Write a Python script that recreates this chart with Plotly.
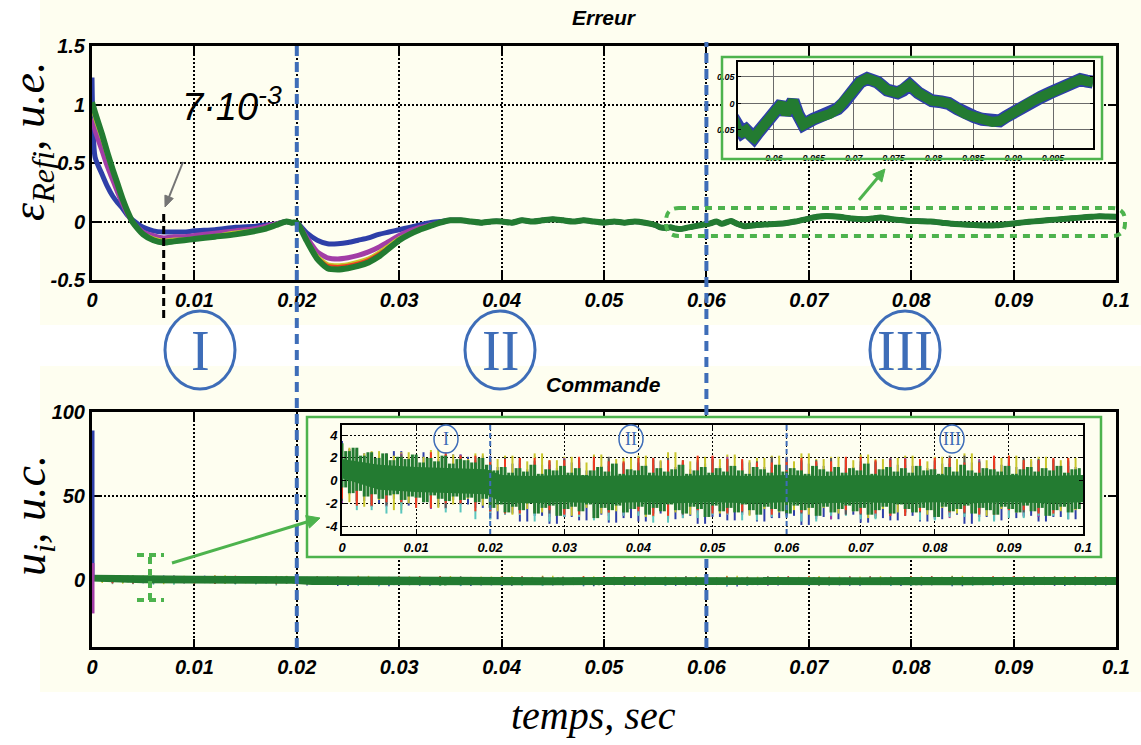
import math
import plotly.graph_objects as go

# ======================= DATA =======================
# --- Erreur (tracking error) : early transient, one list per run colour
t_err_early = [0, 0.0003, 0.001, 0.0015, 0.002, 0.0025, 0.003, 0.0035, 0.004, 0.005,
               0.006, 0.007, 0.008, 0.009, 0.010, 0.012, 0.014, 0.016, 0.017, 0.018,
               0.019, 0.0195, 0.020, 0.021, 0.022, 0.023, 0.024, 0.025, 0.026, 0.027,
               0.028, 0.029, 0.030, 0.031, 0.032, 0.033, 0.034, 0.035]
err_blue_early = [1.23, 0.55, 0.40, 0.30, 0.22, 0.16, 0.11, 0.05, 0.01, -0.05,
                  -0.08, -0.09, -0.09, -0.09, -0.08, -0.07, -0.05, -0.04, -0.03, -0.02,
                  0.0, -0.01, -0.01, -0.10, -0.16, -0.19, -0.19, -0.18, -0.16, -0.14,
                  -0.11, -0.09, -0.07, -0.05, -0.03, -0.01, 0.0, 0.01]
err_magenta_early = [0.88, 0.78, 0.60, 0.47, 0.36, 0.25, 0.15, 0.06, -0.01, -0.09,
                     -0.12, -0.14, -0.13, -0.13, -0.12, -0.10, -0.08, -0.06, -0.04, -0.02,
                     0.0, -0.01, -0.01, -0.14, -0.26, -0.31, -0.32, -0.31, -0.29, -0.26,
                     -0.22, -0.17, -0.12, -0.08, -0.05, -0.03, -0.01, 0.01]
err_yellow_early = [0.97, 0.87, 0.69, 0.55, 0.42, 0.30, 0.18, 0.07, -0.01, -0.10,
                    -0.14, -0.16, -0.15, -0.15, -0.14, -0.12, -0.09, -0.07, -0.05, -0.03,
                    0.0, -0.01, -0.01, -0.16, -0.29, -0.36, -0.37, -0.36, -0.34, -0.31,
                    -0.26, -0.20, -0.14, -0.10, -0.06, -0.04, -0.01, 0.01]
err_red_early = [0.99, 0.89, 0.71, 0.57, 0.43, 0.31, 0.18, 0.08, -0.01, -0.10,
                 -0.15, -0.17, -0.16, -0.15, -0.14, -0.12, -0.10, -0.07, -0.05, -0.03,
                 0.0, -0.01, -0.01, -0.16, -0.30, -0.37, -0.38, -0.37, -0.35, -0.32,
                 -0.27, -0.21, -0.15, -0.10, -0.06, -0.04, -0.01, 0.01]
err_green_early = [1.02, 0.93, 0.74, 0.59, 0.45, 0.32, 0.19, 0.08, -0.01, -0.11,
                   -0.16, -0.18, -0.17, -0.16, -0.15, -0.13, -0.11, -0.08, -0.06, -0.03,
                   0.0, -0.01, -0.01, -0.17, -0.32, -0.40, -0.41, -0.40, -0.38, -0.35,
                   -0.30, -0.23, -0.16, -0.11, -0.07, -0.04, -0.01, 0.01]
# --- Erreur : common tail (all runs coincide), also shown in the zoom inset
t_err_tail = [0.036, 0.037, 0.038, 0.039, 0.040, 0.041, 0.042, 0.043, 0.044, 0.045,
              0.046, 0.047, 0.048, 0.049, 0.050, 0.051, 0.052, 0.053, 0.054, 0.055,
              0.0555, 0.056, 0.0565, 0.057, 0.0575, 0.058, 0.0586, 0.0595, 0.0603, 0.061,
              0.0615, 0.0624, 0.063, 0.0637, 0.0649, 0.066, 0.067, 0.068, 0.0687, 0.070,
              0.0708, 0.0717, 0.0730, 0.0742, 0.0755, 0.0762, 0.0770, 0.0781, 0.079, 0.0798,
              0.081, 0.0819, 0.083, 0.0840, 0.0851, 0.0861, 0.0874, 0.0883, 0.0891, 0.0904,
              0.0915, 0.0925, 0.0935, 0.0946, 0.0957, 0.0967, 0.0976, 0.0984, 0.0992, 0.1]
err_tail = [0.01, 0.0, -0.01, 0.0, 0.0, -0.01, 0.01, 0.0, 0.01, 0.02,
            0.01, 0.0, 0.01, 0.0, -0.01, 0.0, -0.01, 0.0, -0.01, -0.03,
            -0.05, -0.055, -0.05, -0.06, -0.065, -0.055, -0.045, -0.03, -0.018, 0.0,
            -0.02, 0.005, -0.02, -0.04, -0.03, -0.025, -0.02, -0.01, 0.0, 0.025,
            0.04, 0.047, 0.04, 0.025, 0.02, 0.025, 0.035, 0.02, 0.012, 0.005,
            0.003, 0.0, -0.01, -0.02, -0.025, -0.03, -0.035, -0.033, -0.025, -0.012,
            -0.003, 0.005, 0.012, 0.02, 0.027, 0.035, 0.04, 0.045, 0.042, 0.04]

# --- Commande (control signal), green run: alternating peaks / troughs, 0.0005 s sampling
u_green_peaks = [3.3, 2.6, 2.9, 2.2, 2.5, 2.0, 2.4, 1.8, 2.1, 1.9,
                 2.3, 1.6, 2.0, 1.7, 2.2, 1.5, 1.9, 1.8, 1.6, 2.0,
                 1.4, 0.9, 1.2, 0.7, 1.1, 0.8, 1.4, 0.6, 1.0, 0.9,
                 1.3, 0.7, 1.1, 0.5, 0.9, 1.2, 0.8, 1.5, 0.6, 1.0,
                 0.9, 1.3, 0.7, 1.1, 0.8, 1.0, 1.4, 0.6, 0.9, 1.2,
                 0.7, 1.1, 0.8, 1.3, 0.9, 0.6, 1.2, 1.0, 0.7, 1.4,
                 0.8, 1.1, 0.9, 0.6, 1.3, 1.0, 0.8, 1.2, 0.7, 1.1,
                 0.9, 1.5, 0.6, 1.0, 1.2, 0.8, 1.1, 0.7, 1.3, 0.9,
                 1.0, 0.6, 1.2, 0.8, 1.4, 0.9, 0.7, 1.1, 1.0, 0.8,
                 1.3, 0.6, 1.0, 1.2, 0.8, 1.1, 0.9, 1.3, 0.7, 1.0, 1.1]
u_green_troughs = [-0.6, -1.1, -0.9, -1.4, -1.2, -1.6, -1.3, -1.2, -1.7, -1.4,
                   -1.5, -1.9, -1.3, -1.6, -1.8, -1.4, -1.7, -1.5, -1.9, -1.6,
                   -2.4, -2.1, -2.8, -2.3, -2.6, -2.0, -2.9, -2.4, -2.2, -3.1,
                   -2.5, -2.3, -2.7, -2.1, -3.3, -2.4, -2.6, -2.2, -2.8, -2.5,
                   -2.3, -3.0, -2.4, -2.7, -2.1, -2.6, -2.9, -2.3, -2.5, -3.2,
                   -2.2, -2.7, -2.4, -2.8, -2.1, -2.6, -3.0, -2.3, -2.5, -2.7,
                   -2.9, -2.2, -2.6, -2.4, -3.1, -2.3, -2.8, -2.5, -2.2, -2.7,
                   -2.4, -3.0, -2.6, -2.3, -2.9, -2.1, -2.5, -2.8, -2.4, -2.6,
                   -3.2, -2.3, -2.7, -2.5, -2.2, -2.9, -2.4, -2.6, -3.0, -2.3,
                   -2.5, -2.8, -2.2, -2.7, -2.4, -3.1, -2.6, -2.3, -2.8, -2.5]
# dense core of the green band
t_core = [0, 0.005, 0.01, 0.015, 0.0195, 0.0215, 0.025, 0.03, 0.035, 0.04, 0.045,
          0.05, 0.055, 0.06, 0.065, 0.07, 0.075, 0.08, 0.085, 0.09, 0.095, 0.1]
u_core_hi = [1.9, 1.4, 1.2, 1.1, 1.0, 0.5, 0.4, 0.5, 0.4, 0.5, 0.4,
             0.5, 0.4, 0.5, 0.4, 0.5, 0.4, 0.5, 0.4, 0.5, 0.4, 0.5]
u_core_lo = [0.2, -0.8, -1.0, -1.1, -1.2, -1.9, -2.0, -1.9, -2.0, -1.9, -2.0,
             -1.9, -2.0, -1.9, -2.0, -1.9, -2.0, -1.9, -2.0, -1.9, -2.0, -1.9]
# other runs, 0.001 s sampling
u_blue = [3.5, -1.2, 2.8, -1.8, 2.4, -2.0, 2.2, -1.6, 2.6, -2.2,
          2.0, -1.9, 2.5, -2.3, 1.9, -1.7, 2.3, -2.1, 2.1, -2.4,
          2.2, -3.4, 1.2, -2.9, 1.5, -3.6, 1.0, -3.1, 1.4, -3.8,
          1.1, -3.2, 1.6, -3.5, 0.9, -3.0, 1.3, -3.7, 1.5, -3.3,
          1.0, -3.6, 1.4, -2.9, 1.7, -3.4, 1.2, -3.1, 1.0, -3.8,
          1.5, -3.2, 1.3, -3.5, 1.1, -3.0, 1.6, -3.6, 1.2, -3.3,
          1.4, -3.1, 1.0, -3.9, 1.5, -3.2, 1.3, -3.4, 1.1, -3.0,
          1.2, -3.7, 1.6, -3.3, 1.0, -3.5, 1.4, -3.1, 1.3, -3.6,
          1.1, -3.4, 1.5, -3.0, 1.2, -3.8, 1.6, -3.2, 1.0, -3.5,
          1.4, -3.3, 1.2, -3.1, 1.7, -3.6, 1.1, -3.2, 1.3, -3.4, 1.2]
u_yellow = [-0.5, 2.9, -1.9, 2.4, -2.3, 2.6, -1.7, 2.2, -2.6, 2.5,
            -2.0, 2.1, -1.8, 2.7, -2.4, 2.3, -2.1, 1.9, -1.6, 2.4,
            -2.2, 1.9, -2.7, 2.2, -3.0, 1.7, -2.5, 2.4, -2.8, 1.8,
            -2.6, 2.1, -3.1, 1.6, -2.4, 2.3, -2.9, 1.9, -2.7, 2.0,
            -2.5, 2.2, -3.2, 1.8, -2.6, 2.5, -2.8, 1.7, -3.0, 2.1,
            -2.4, 1.9, -2.9, 2.3, -2.7, 1.8, -3.1, 2.0, -2.5, 2.2,
            -2.8, 1.7, -2.6, 2.4, -3.0, 1.9, -2.4, 2.1, -2.9, 1.8,
            -2.7, 2.3, -3.3, 1.9, -2.5, 2.0, -2.8, 2.2, -2.6, 1.7,
            -3.0, 2.1, -2.4, 1.9, -2.9, 2.4, -2.7, 1.8, -3.1, 2.0,
            -2.5, 2.2, -2.8, 1.9, -2.6, 2.1, -3.0, 1.8, -2.7, 2.0, -2.6]
# other runs, 0.002 s sampling
u_magenta = [2.6, -2.0, 2.2, -2.3, 2.4, -1.8, 2.0, -2.5, 2.3, -2.1,
             1.6, -3.0, 1.9, -2.8, 1.4, -3.2, 2.0, -2.7, 1.7, -3.1,
             1.5, -2.9, 1.8, -3.3, 1.6, -2.8, 2.1, -3.0, 1.5, -3.2,
             1.9, -2.7, 1.6, -3.4, 1.8, -2.9, 1.4, -3.1, 2.0, -2.8,
             1.7, -3.3, 1.5, -2.9, 1.9, -3.0, 1.6, -3.2, 1.8, -2.8, 1.7]
u_cyan = [-1.5, 2.3, -2.6, 2.0, -2.9, 2.2, -2.4, 1.9, -2.8, 2.1,
          -3.4, 1.5, -3.0, 1.8, -3.6, 1.3, -3.2, 1.7, -3.5, 1.4,
          -3.1, 1.9, -3.7, 1.5, -3.3, 1.6, -3.0, 1.8, -3.5, 1.4,
          -3.2, 1.7, -3.6, 1.5, -3.1, 1.9, -3.4, 1.6, -3.0, 1.8,
          -3.5, 1.4, -3.2, 1.7, -3.6, 1.5, -3.3, 1.8, -3.1, 1.6, -3.4]
u_gray = [2.4, -1.8, 2.1, -2.2, 2.3, -1.9, 2.0, -2.4, 2.2, -2.0,
          1.8, -2.7, 2.0, -2.5, 1.7, -2.9, 1.9, -2.6, 2.1, -2.8,
          1.6, -2.5, 2.0, -3.0, 1.8, -2.6, 1.9, -2.8, 1.7, -2.7,
          2.1, -2.9, 1.8, -2.5, 2.0, -3.0, 1.7, -2.6, 1.9, -2.8,
          1.8, -2.7, 2.2, -2.9, 1.7, -2.6, 2.0, -2.8, 1.9, -2.5, 1.8]
u_red = [-1.6, 2.7, -2.2, 2.3, -1.9, 2.1, -2.4, 2.5, -2.0, 2.2,
         -2.7, 1.9, -2.9, 2.0, -2.6, 1.8, -3.0, 2.1, -2.8, 1.7,
         -2.7, 2.0, -3.1, 1.8, -2.6, 2.2, -2.9, 1.9, -2.7, 1.6,
         -3.0, 2.0, -2.8, 1.7, -2.6, 2.1, -2.9, 1.8, -3.1, 1.9,
         -2.7, 2.0, -2.8, 1.6, -3.0, 2.2, -2.6, 1.8, -2.9, 2.0, -2.7]
# initial control spike at t = 0
t_spike = [0, 0]
u_spike_blue = [89, 2]
u_spike_magenta = [10, -20]

x_tickvals = [0, 0.01, 0.02, 0.03, 0.04, 0.05, 0.06, 0.07, 0.08, 0.09, 0.1]
x_ticktext = ["0", "0.01", "0.02", "0.03", "0.04", "0.05", "0.06", "0.07", "0.08", "0.09", "0.1"]
err_tickvals = [-0.5, 0, 0.5, 1, 1.5]
err_ticktext = ["-0.5", "0", "0.5", "1", "1.5"]
u_tickvals = [0, 50, 100]
u_ticktext = ["0", "50", "100"]
zoom_err_xvals = [0.06, 0.065, 0.07, 0.075, 0.08, 0.085, 0.09, 0.095]
zoom_err_xtext = ["0.06", "0.065", "0.07", "0.075", "0.08", "0.085", "0.09", "0.095"]
zoom_err_yvals = [-0.05, 0, 0.05]
zoom_err_ytext = ["0.05", "0", "0.05"]
zoom_u_yvals = [-4, -2, 0, 2, 4]
zoom_u_ytext = ["-4", "-2", "0", "2", "4"]
phase_labels = ["I", "II", "III"]
phase_bounds = [0.02, 0.06]

# ======================= BUILD =======================
W, H = 1141, 745
def PX(x): return x / W
def PY(y): return 1 - y / H

t_u = [round(i * 0.0005, 5) for i in range(len(u_green_peaks) + len(u_green_troughs))]
u_green = []
for k in range(len(u_green_troughs)):
    u_green += [u_green_peaks[k], u_green_troughs[k]]
u_green.append(u_green_peaks[-1])
t_c1 = [round(i * 0.001, 4) for i in range(len(u_blue))]
t_c2 = [round(i * 0.002, 4) for i in range(len(u_magenta))]

def spikes(t, u):
    """vertical noise spikes: each sample joined to the next one at the sample instant"""
    xs, ys = [], []
    for k in range(len(u) - 1):
        xs += [t[k], t[k], None]
        ys += [u[k], u[k + 1], None]
    return xs, ys

t_err = t_err_early + t_err_tail
err_series = [
    ("#2E3FA8", 5, err_blue_early),
    ("#A23DA6", 5, err_magenta_early),
    ("#C9C62C", 3, err_yellow_early),
    ("#F03A20", 2, err_red_early),
    ("#237B31", 6, err_green_early),
]

CREAM = "#FEFEF0"
BLUE = "#3E6DB8"
GREEN = "#4DB34D"
DGREEN = "#237B31"

fig = go.Figure()

# ---- main error plot
for col, w, early in err_series:
    fig.add_trace(go.Scatter(x=t_err, y=early + err_tail, mode="lines",
                             line=dict(color=col, width=w, shape="spline", smoothing=0.6),
                             xaxis="x", yaxis="y", showlegend=False, hoverinfo="skip"))

# ---- control traces (main & inset)
def control_traces(xa, ya, wc, wg, wcore):
    tr = []
    for t, u, col in [(t_c1, u_blue, "#2E3FA8"), (t_c1, u_yellow, "#C9C62C"),
                      (t_c2, u_magenta, "#A23DA6"), (t_c2, u_cyan, "#5CC6BE"),
                      (t_c2, u_gray, "#5A5A5A"), (t_c2, u_red, "#F03A20")]:
        xs, ys = spikes(t, u)
        tr.append(go.Scatter(x=xs, y=ys, mode="lines", line=dict(color=col, width=wc),
                             xaxis=xa, yaxis=ya, showlegend=False, hoverinfo="skip"))
    xs, ys = spikes(t_u, u_green)
    tr.append(go.Scatter(x=xs, y=ys, mode="lines", line=dict(color=DGREEN, width=wg),
                         xaxis=xa, yaxis=ya, showlegend=False, hoverinfo="skip"))
    tr.append(go.Scatter(x=t_core, y=u_core_lo, mode="lines", line=dict(width=wcore, color=DGREEN),
                         xaxis=xa, yaxis=ya, showlegend=False, hoverinfo="skip"))
    tr.append(go.Scatter(x=t_core, y=u_core_hi, mode="lines", line=dict(width=wcore, color=DGREEN),
                         fill="tonexty", fillcolor=DGREEN,
                         xaxis=xa, yaxis=ya, showlegend=False, hoverinfo="skip"))
    return tr

for tr in control_traces("x2", "y2", 1.5, 2.5, 4):
    fig.add_trace(tr)
fig.add_trace(go.Scatter(x=t_spike, y=u_spike_blue, mode="lines", line=dict(color="#2E3FA8", width=5),
                         xaxis="x2", yaxis="y2", showlegend=False, hoverinfo="skip"))
fig.add_trace(go.Scatter(x=t_spike, y=u_spike_magenta, mode="lines", line=dict(color="#A23DA6", width=5),
                         xaxis="x2", yaxis="y2", showlegend=False, hoverinfo="skip"))

# ---- cover subplots (opaque boxes behind insets)
fig.add_trace(go.Scatter(x=[], y=[], xaxis="x3", yaxis="y3", showlegend=False))
fig.add_trace(go.Scatter(x=[], y=[], xaxis="x4", yaxis="y4", showlegend=False))

# ---- inset: error zoom
fig.add_trace(go.Scatter(x=t_err, y=err_blue_early + err_tail, mode="lines",
                         line=dict(color="#2E3FA8", width=13), xaxis="x5", yaxis="y5",
                         showlegend=False, hoverinfo="skip"))
fig.add_trace(go.Scatter(x=t_err, y=err_green_early + err_tail, mode="lines",
                         line=dict(color=DGREEN, width=10), xaxis="x5", yaxis="y5",
                         showlegend=False, hoverinfo="skip"))

# ---- inset: control zoom
for tr in control_traces("x6", "y6", 2.0, 3.0, 0):
    fig.add_trace(tr)

# ======================= AXES =======================
tickfont_main = dict(family="Liberation Sans, Arial", size=20,
                     color="black", weight="bold", style="italic")
common_main = dict(showline=True, linecolor="black", linewidth=3, mirror="ticks",
                   ticks="inside", ticklen=8, tickwidth=2, tickcolor="black",
                   showgrid=True, gridcolor="black", gridwidth=1.5, griddash="2px,2px",
                   zeroline=False, tickfont=tickfont_main, layer="below traces",
                   automargin=False, fixedrange=True)
main_x = [PX(92), PX(1116)]
inset_font9 = dict(family="Liberation Sans", size=9, weight="bold", style="italic", color="black")
inset_font13 = dict(family="Liberation Sans", size=13, weight="bold", style="italic", color="black")

fig.update_layout(
    xaxis=dict(domain=main_x, range=[0, 0.1], anchor="y", tickvals=x_tickvals,
               ticktext=x_ticktext, **common_main),
    yaxis=dict(domain=[PY(280), PY(46)], range=[-0.5, 1.5], anchor="x",
               tickvals=err_tickvals, ticktext=err_ticktext, **common_main),
    xaxis2=dict(domain=main_x, range=[0, 0.1], anchor="y2", tickvals=x_tickvals,
                ticktext=x_ticktext, **common_main),
    yaxis2=dict(domain=[PY(647), PY(412)], range=[-40, 100], anchor="x2",
                tickvals=u_tickvals, ticktext=u_ticktext, **common_main),
    xaxis3=dict(domain=[PX(722), PX(1102)], range=[0, 1], anchor="y3", visible=False),
    yaxis3=dict(domain=[PY(159), PY(57)], range=[0, 1], anchor="x3", visible=False),
    xaxis4=dict(domain=[PX(307), PX(1101)], range=[0, 1], anchor="y4", visible=False),
    yaxis4=dict(domain=[PY(557), PY(417)], range=[0, 1], anchor="x4", visible=False),
    xaxis5=dict(domain=[PX(738), PX(1093)], range=[0.0555, 0.1], anchor="y5",
                tickvals=zoom_err_xvals, ticktext=zoom_err_xtext,
                showline=True, linecolor="black", linewidth=1.5, mirror="ticks",
                ticks="inside", ticklen=3, tickcolor="black",
                showgrid=True, gridcolor="#6A6A6A", gridwidth=1, zeroline=False,
                tickfont=inset_font9, automargin=False, fixedrange=True),
    yaxis5=dict(domain=[PY(148), PY(62)], range=[-0.084, 0.078], anchor="x5",
                tickvals=zoom_err_yvals, ticktext=zoom_err_ytext,
                showline=True, linecolor="black", linewidth=1.5, mirror="ticks",
                ticks="inside", ticklen=3, tickcolor="black",
                showgrid=True, gridcolor="#6A6A6A", gridwidth=1, zeroline=False,
                tickfont=inset_font9, automargin=False, fixedrange=True),
    xaxis6=dict(domain=[PX(342), PX(1083)], range=[0, 0.1], anchor="y6",
                tickvals=x_tickvals, ticktext=x_ticktext,
                showline=True, linecolor="black", linewidth=2, mirror="ticks",
                ticks="inside", ticklen=4, tickcolor="black",
                showgrid=True, gridcolor="black", gridwidth=1, griddash="2px,2px", zeroline=False,
                tickfont=inset_font13, automargin=False, fixedrange=True),
    yaxis6=dict(domain=[PY(534), PY(425)], range=[-4.7, 4.9], anchor="x6",
                tickvals=zoom_u_yvals, ticktext=zoom_u_ytext,
                showline=True, linecolor="black", linewidth=2, mirror="ticks",
                ticks="inside", ticklen=4, tickcolor="black",
                showgrid=True, gridcolor="black", gridwidth=1, griddash="2px,2px", zeroline=False,
                tickfont=inset_font13, automargin=False, fixedrange=True),
)

# ======================= SHAPES =======================
shapes = []
# cream panels
shapes.append(dict(type="rect", xref="paper", yref="paper", x0=PX(40), x1=1, y0=PY(325), y1=1,
                   fillcolor=CREAM, line=dict(width=0), layer="below"))
shapes.append(dict(type="rect", xref="paper", yref="paper", x0=PX(40), x1=1, y0=PY(692), y1=PY(366),
                   fillcolor=CREAM, line=dict(width=0), layer="below"))
# inset borders
shapes.append(dict(type="rect", xref="paper", yref="paper", x0=PX(722), x1=PX(1102), y0=PY(159), y1=PY(57),
                   line=dict(color=GREEN, width=2.5), layer="above"))
shapes.append(dict(type="rect", xref="paper", yref="paper", x0=PX(307), x1=PX(1101), y0=PY(557), y1=PY(417),
                   line=dict(color=GREEN, width=2.5), layer="above"))
# phase boundaries (big dashed lines)
bdash = dict(color=BLUE, width=4, dash="10px,6px")
shapes.append(dict(type="line", xref="x", yref="paper", x0=phase_bounds[0], x1=phase_bounds[0],
                   y0=PY(648), y1=PY(42), line=bdash, layer="above"))
shapes.append(dict(type="line", xref="x", yref="paper", x0=phase_bounds[1], x1=phase_bounds[1],
                   y0=PY(415), y1=PY(42), line=bdash, layer="above"))
shapes.append(dict(type="line", xref="x", yref="paper", x0=phase_bounds[1], x1=phase_bounds[1],
                   y0=PY(648), y1=PY(559), line=bdash, layer="above"))
for b in phase_bounds:
    shapes.append(dict(type="line", xref="x6", yref="y6", x0=b, x1=b, y0=-4.7, y1=4.9,
                       line=dict(color=BLUE, width=2, dash="5px,3px"), layer="above"))
# black dashed marker at 7e-3
shapes.append(dict(type="line", xref="x", yref="paper", x0=0.007, x1=0.007, y0=PY(318), y1=PY(214),
                   line=dict(color="black", width=3, dash="8px,4px"), layer="above"))
# rounded dashed green box around the tail
def rounded_path(l, t, r, b, rad):
    rx, ry = rad / W, rad / H
    x0, x1, y0, y1 = PX(l), PX(r), PY(b), PY(t)
    return (f"M {x0+rx},{y1} L {x1-rx},{y1} Q {x1},{y1} {x1},{y1-ry} "
            f"L {x1},{y0+ry} Q {x1},{y0} {x1-rx},{y0} L {x0+rx},{y0} "
            f"Q {x0},{y0} {x0},{y0+ry} L {x0},{y1-ry} Q {x0},{y1} {x0+rx},{y1} Z")
shapes.append(dict(type="path", xref="paper", yref="paper", path=rounded_path(666, 208, 1125, 236, 13),
                   line=dict(color=GREEN, width=4, dash="7px,6px"), layer="above"))
# I-beam marker in the control plot
ib = dict(color=GREEN, width=4, dash="7px,5px")
shapes.append(dict(type="line", xref="paper", yref="paper", x0=PX(137), x1=PX(164), y0=PY(555), y1=PY(555), line=ib))
shapes.append(dict(type="line", xref="paper", yref="paper", x0=PX(137), x1=PX(164), y0=PY(600), y1=PY(600), line=ib))
shapes.append(dict(type="line", xref="paper", yref="paper", x0=PX(150), x1=PX(150), y0=PY(600), y1=PY(555), line=ib))
# phase circles
big_circ = [(200, 350), (500, 350), (905, 350)]
for cx, cy in big_circ:
    shapes.append(dict(type="circle", xref="paper", yref="paper", x0=PX(cx - 35), x1=PX(cx + 35),
                       y0=PY(cy + 39), y1=PY(cy - 39), line=dict(color=BLUE, width=3)))
small_circ = [(446, 439), (631, 439), (952, 439)]
for cx, cy in small_circ:
    shapes.append(dict(type="circle", xref="paper", yref="paper", x0=PX(cx - 12), x1=PX(cx + 12),
                       y0=PY(cy + 14), y1=PY(cy - 14), line=dict(color=BLUE, width=1.5)))

# arrows drawn as a shaft + filled head (tail -> head, in picture pixels)
def arrow(tail, head, color, width, hl, hw):
    (tx, ty), (hx, hy) = tail, head
    d = math.hypot(hx - tx, hy - ty)
    ux, uy = (hx - tx) / d, (hy - ty) / d
    bx, by = hx - ux * hl, hy - uy * hl
    px_, py_ = -uy * hw, ux * hw
    out = [dict(type="line", xref="paper", yref="paper", x0=PX(tx), y0=PY(ty), x1=PX(bx), y1=PY(by),
                line=dict(color=color, width=width), layer="above")]
    path = (f"M {PX(hx)},{PY(hy)} L {PX(bx + px_)},{PY(by + py_)} "
            f"L {PX(bx - px_)},{PY(by - py_)} Z")
    out.append(dict(type="path", xref="paper", yref="paper", path=path, fillcolor=color,
                    line=dict(color=color, width=1), layer="above"))
    return out

shapes += arrow((183, 162), (165, 207), "#757575", 2, 11, 4.5)
shapes += arrow((859, 200), (885, 169), GREEN, 3, 12, 6)
shapes += arrow((172, 563), (320, 518), GREEN, 3, 13, 6.5)

# ======================= ANNOTATIONS =======================
ann = []
title_font = dict(family="Liberation Sans", size=21, color="black", weight="bold", style="italic")
ann.append(dict(text="Erreur", x=PX(604), y=PY(17), xref="paper", yref="paper", showarrow=False,
                font=title_font, xanchor="center", yanchor="middle"))
ann.append(dict(text="Commande", x=PX(603), y=PY(384), xref="paper", yref="paper", showarrow=False,
                font=title_font, xanchor="center", yanchor="middle"))
lab_font = dict(family="Liberation Serif, DejaVu Serif", size=46, color="black", style="italic")
ann.append(dict(text="ε<sub>Refi</sub>, u.e.", x=PX(32), y=PY(142), xref="paper", yref="paper",
                showarrow=False, textangle=-90, font=lab_font, xanchor="center", yanchor="middle"))
ann.append(dict(text="u<sub>i</sub>, u.c.", x=PX(33), y=PY(516), xref="paper", yref="paper",
                showarrow=False, textangle=-90, font=lab_font, xanchor="center", yanchor="middle"))
ann.append(dict(text="temps, sec", x=PX(593), y=PY(715), xref="paper", yref="paper", showarrow=False,
                font=dict(family="Liberation Serif, DejaVu Serif", size=40, color="black", style="italic"),
                xanchor="center", yanchor="middle"))
ann.append(dict(text="7·10<sup>-3</sup>", x=PX(232), y=PY(104), xref="paper", yref="paper", showarrow=False,
                font=dict(family="Liberation Sans", size=38, color="black", style="italic"),
                xanchor="center", yanchor="middle"))
for (cx, cy), lab in zip(big_circ, phase_labels):
    ann.append(dict(text=lab, x=PX(cx), y=PY(cy + 1), xref="paper", yref="paper", showarrow=False,
                    font=dict(family="Liberation Serif", size=56, color=BLUE),
                    xanchor="center", yanchor="middle"))
for (cx, cy), lab in zip(small_circ, phase_labels):
    ann.append(dict(text=lab, x=PX(cx), y=PY(cy), xref="paper", yref="paper", showarrow=False,
                    font=dict(family="Liberation Serif", size=18, color=BLUE),
                    xanchor="center", yanchor="middle"))

fig.update_layout(
    width=W, height=H, autosize=False,
    margin=dict(l=0, r=0, t=0, b=0),
    paper_bgcolor="white", plot_bgcolor=CREAM,
    shapes=shapes, annotations=ann, showlegend=False,
)

fig.write_html("out.html", config={"displayModeBar": False},
               post_script="document.body.style.margin='0px';document.body.style.overflow='hidden';")
